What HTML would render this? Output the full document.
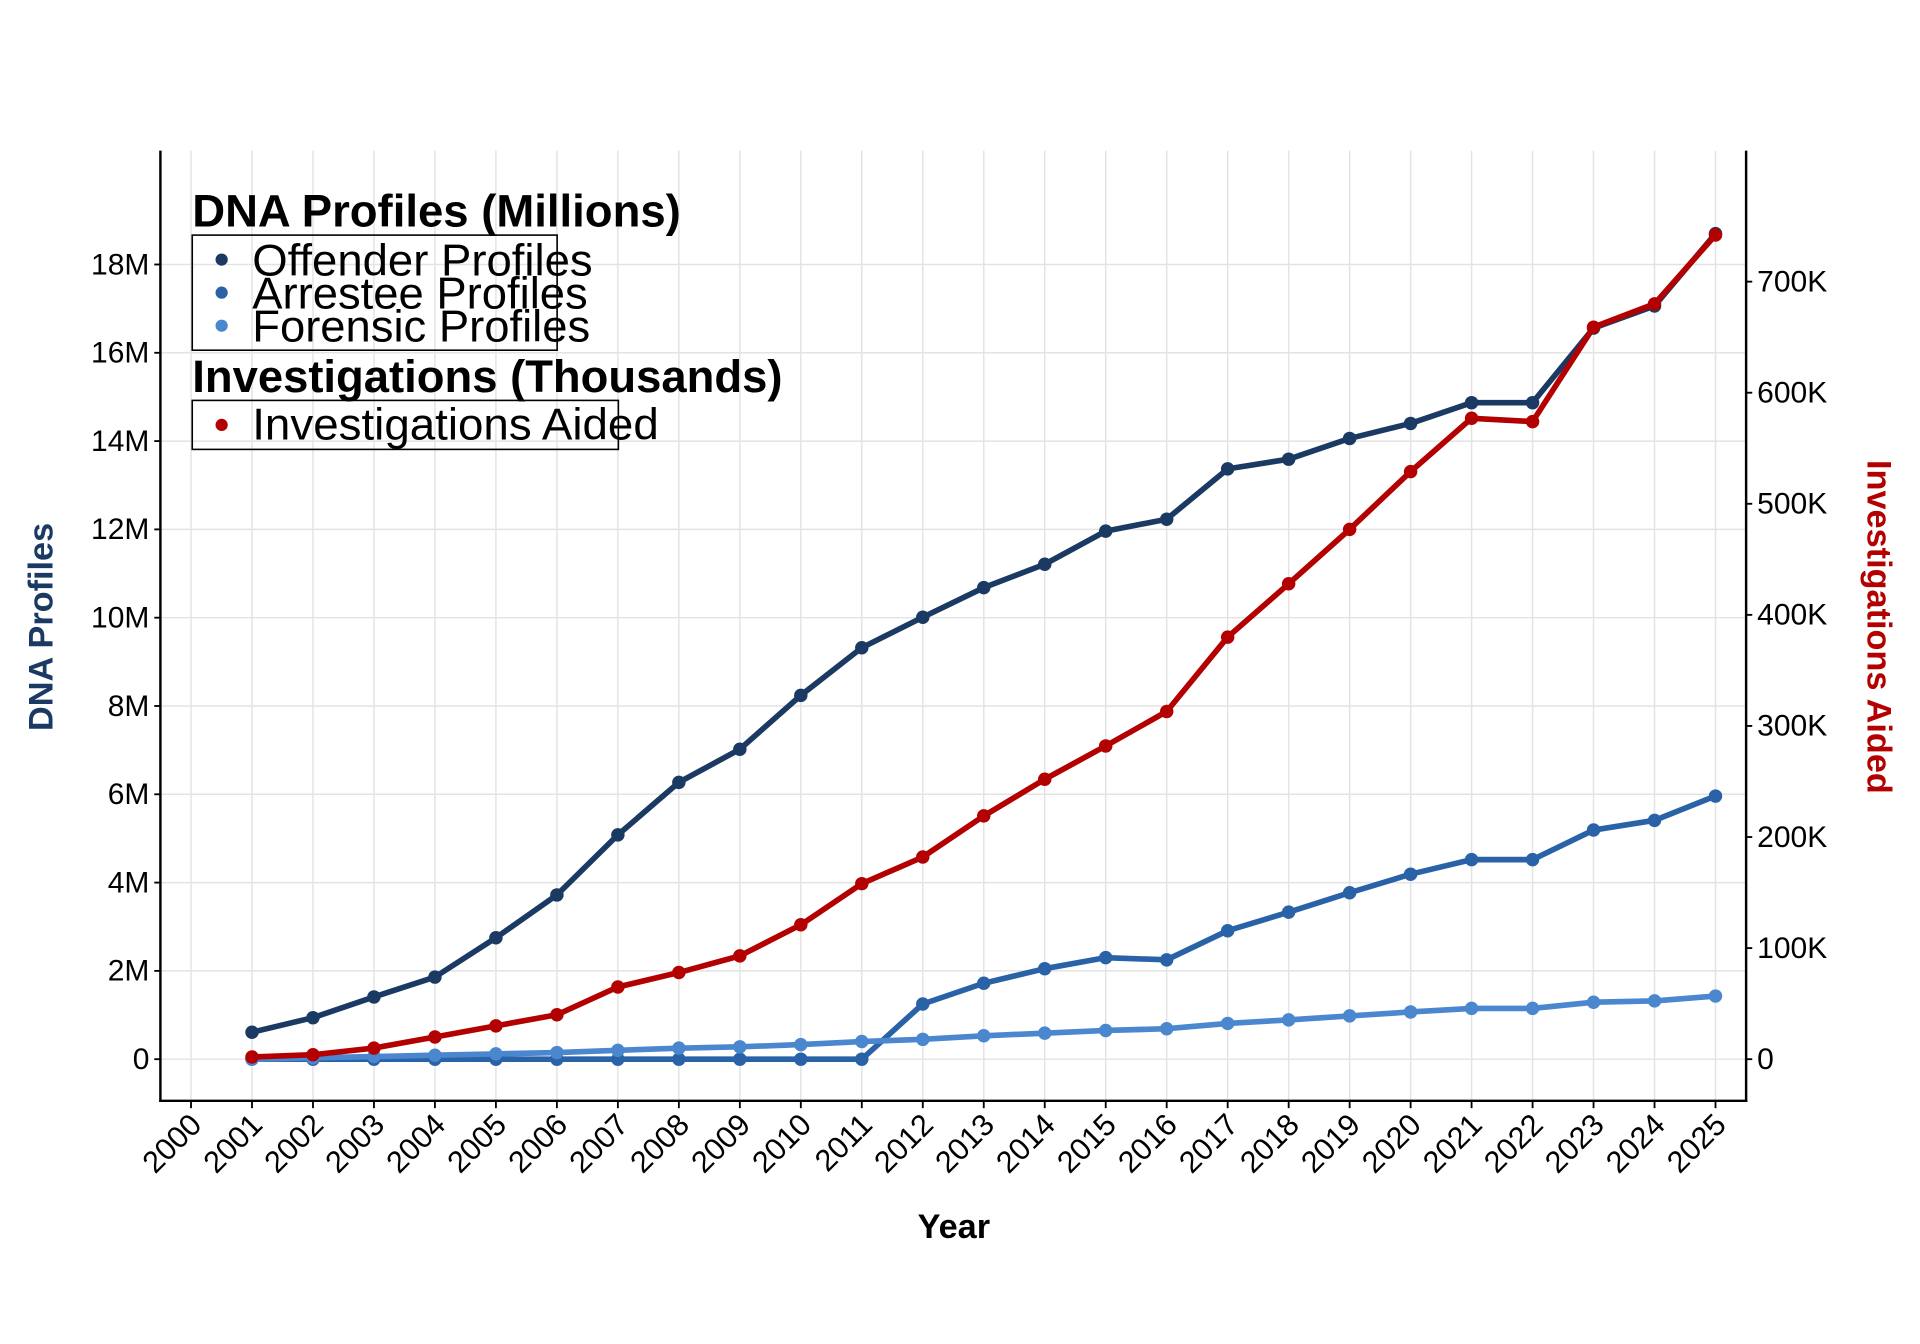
<!DOCTYPE html>
<html><head><meta charset="utf-8"><style>
html,body{margin:0;padding:0;background:#fff}
svg{display:block}
text{font-family:"Liberation Sans",Arial,sans-serif}
</style></head><body>
<svg id="chart" width="1920" height="1344" viewBox="0 0 1568 1097.6" xmlns="http://www.w3.org/2000/svg">
<g id="grid"></g>
<g id="series"></g>
<g id="axes"></g>
<g>
  <text x="157" y="185" font-size="37" font-weight="bold" textLength="399" lengthAdjust="spacingAndGlyphs">DNA Profiles (Millions)</text>
  <rect x="157" y="192" width="298" height="94" fill="none" stroke="#000" stroke-width="1.3"/>
  <circle cx="181" cy="212" r="5" fill="#1b3a63"/>
  <text x="206" y="225" font-size="36" textLength="278" lengthAdjust="spacingAndGlyphs">Offender Profiles</text>
  <circle cx="181" cy="239" r="5" fill="#2a62a8"/>
  <text x="206" y="252" font-size="36" textLength="274" lengthAdjust="spacingAndGlyphs">Arrestee Profiles</text>
  <circle cx="181" cy="266" r="5" fill="#4a87cf"/>
  <text x="206" y="279" font-size="36" textLength="276" lengthAdjust="spacingAndGlyphs">Forensic Profiles</text>
  <text x="157" y="320" font-size="37" font-weight="bold" textLength="482" lengthAdjust="spacingAndGlyphs">Investigations (Thousands)</text>
  <rect x="157" y="327" width="348" height="40" fill="none" stroke="#000" stroke-width="1.3"/>
  <circle cx="181" cy="347" r="5" fill="#b30000"/>
  <text x="206" y="359" font-size="36" textLength="332" lengthAdjust="spacingAndGlyphs">Investigations Aided</text>
</g>
<text x="779" y="1011" font-size="28" font-weight="bold" text-anchor="middle">Year</text>
<text transform="translate(43,512) rotate(-90)" font-size="28" font-weight="bold" text-anchor="middle" fill="#1b3a63">DNA Profiles</text>
<text transform="translate(1525,512) rotate(90)" font-size="28" font-weight="bold" text-anchor="middle" fill="#b30000">Investigations Aided</text>
</svg>
<script>
const years = [2001,2002,2003,2004,2005,2006,2007,2008,2009,2010,2011,2012,2013,2014,2015,2016,2017,2018,2019,2020,2021,2022,2023,2024,2025];
const xTicks = [2000,2001,2002,2003,2004,2005,2006,2007,2008,2009,2010,2011,2012,2013,2014,2015,2016,2017,2018,2019,2020,2021,2022,2023,2024,2025];
const offender = [0.61,0.94,1.41,1.86,2.75,3.72,5.08,6.27,7.02,8.24,9.32,10.01,10.68,11.21,11.96,12.23,13.37,13.59,14.06,14.40,14.87,14.87,16.56,17.06,18.70];
const arrestee = [0,0,0,0,0,0,0,0,0,0,0,1.25,1.72,2.05,2.30,2.25,2.91,3.33,3.77,4.19,4.52,4.52,5.19,5.41,5.96];
const forensic = [0.0,0.03,0.06,0.09,0.12,0.15,0.20,0.25,0.28,0.33,0.40,0.45,0.53,0.59,0.65,0.69,0.81,0.89,0.98,1.07,1.15,1.15,1.29,1.32,1.43];
const investigations = [2,4,10,20,30,40,65,78,93,121,158,182,219,252,282,313,380,428,477,529,577,574,659,680,742];
const leftTicks = [0,2,4,6,8,10,12,14,16,18];
const leftTickLabels = ["0","2M","4M","6M","8M","10M","12M","14M","16M","18M"];
const rightTicks = [0,100,200,300,400,500,600,700];
const rightTickLabels = ["0","100K","200K","300K","400K","500K","600K","700K"];

const NS="http://www.w3.org/2000/svg";
const X0=131, X1=1426, Y0=123, Y1=899;
function xs(y){return 156+(y-2000)*(1401-156)/25;}
function yl(v){return 865-v*(865-216)/18;}
function yr(v){return 865-v*(865-230)/700;}
function mk(tag,attrs,parent){const e=document.createElementNS(NS,tag);for(const k in attrs)e.setAttribute(k,attrs[k]);parent.appendChild(e);return e;}

const grid=document.getElementById('grid');
const axes=document.getElementById('axes');
const series=document.getElementById('series');

xTicks.forEach(t=>{
  const l=mk('line',{x1:xs(t),x2:xs(t),y1:Y0,y2:Y1,stroke:'#e3e3e3','stroke-width':1.2},grid);
  
  
});
leftTicks.forEach(t=>{
  const l=mk('line',{x1:X0,x2:X1,y1:yl(t),y2:yl(t),stroke:'#e3e3e3','stroke-width':1.2},grid);
  
  
});

function drawSeries(vals,scale,color,name){
  const pts=years.map((y,i)=>[xs(y),scale(vals[i])]);
  const p=mk('polyline',{points:pts.map(p=>p.join(',')).join(' '),fill:'none',stroke:color,'stroke-width':4.6,'stroke-linejoin':'round'},series);
  
  
  pts.forEach(pt=>{
    const c=mk('circle',{cx:pt[0],cy:pt[1],r:5.5,fill:color},series);
    
    
  });
}
drawSeries(offender,yl,'#1b3a63','offender');
drawSeries(arrestee,yl,'#2a62a8','arrestee');
drawSeries(forensic,yl,'#4a87cf','forensic');
drawSeries(investigations,yr,'#b30000','investigations');

const la=mk('line',{x1:X0,x2:X0,y1:Y0,y2:Y1+1,stroke:'#000','stroke-width':2},axes);


const ra=mk('line',{x1:X1,x2:X1,y1:Y0,y2:Y1+1,stroke:'#000','stroke-width':2},axes);


const ba=mk('line',{x1:X0-1,x2:X1+1,y1:Y1,y2:Y1,stroke:'#000','stroke-width':2},axes);



leftTicks.forEach((t,i)=>{
  const tk=mk('line',{x1:X0-5,x2:X0,y1:yl(t),y2:yl(t),stroke:'#000','stroke-width':1.5},axes);
  
  
  const tx=mk('text',{x:X0-9,y:yl(t)+8,'font-size':24.5,'text-anchor':'end'},axes);
  tx.textContent=leftTickLabels[i];
  
  
});
rightTicks.forEach((t,i)=>{
  const tk=mk('line',{x1:X1,x2:X1+5,y1:yr(t),y2:yr(t),stroke:'#000','stroke-width':1.5},axes);
  
  
  const tx=mk('text',{x:X1+9,y:yr(t)+8,'font-size':24.5},axes);
  tx.textContent=rightTickLabels[i];
  
  
});
xTicks.forEach(t=>{
  const tk=mk('line',{x1:xs(t),x2:xs(t),y1:Y1,y2:Y1+6,stroke:'#000','stroke-width':1.5},axes);
  
  
  const ax=xs(t)+10, ay=Y1+21;
  const tx=mk('text',{x:ax,y:ay,'font-size':25,'text-anchor':'end',transform:`rotate(-45 ${ax} ${ay})`},axes);
  tx.textContent=String(t);
  
  
});
</script>
</body></html>
